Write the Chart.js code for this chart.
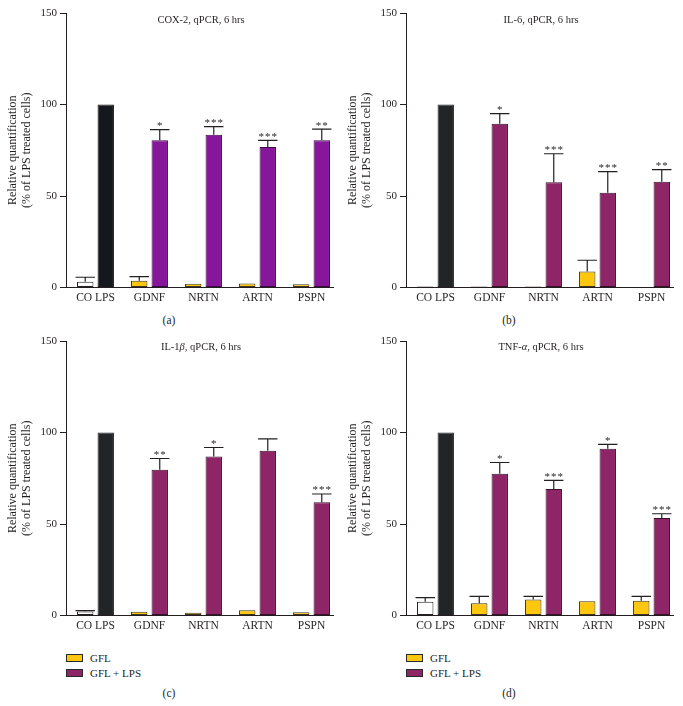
<!DOCTYPE html>
<html><head><meta charset="utf-8">
<script src="https://cdn.jsdelivr.net/npm/chart.js@4.4.0/dist/chart.umd.min.js"></script>
<style>
html,body{margin:0;padding:0;background:#fff;}
body{width:683px;height:706px;position:relative;overflow:hidden;font-family:'Liberation Serif','Times New Roman',serif;color:#231f20;}
.panel{position:absolute;width:340px;height:308px;}
.ttl{position:absolute;font-size:10.5px;white-space:nowrap;transform:translate(-50%,-50%);}
.lbl{position:absolute;font-size:11.5px;white-space:nowrap;transform:translate(-50%,-50%);}
.legtxt{position:absolute;font-size:11px;white-space:nowrap;transform:translateY(-50%);}
.sw{position:absolute;width:15px;height:6px;border:1px solid #2a2a2a;}
</style></head>
<body>
<div class="panel" style="left:0;top:0"><canvas id="cA" width="340" height="308"></canvas></div>
<div class="panel" style="left:340px;top:0"><canvas id="cB" width="340" height="308"></canvas></div>
<div class="panel" style="left:0;top:328px"><canvas id="cC" width="340" height="308"></canvas></div>
<div class="panel" style="left:340px;top:328px"><canvas id="cD" width="340" height="308"></canvas></div>

<div class="ttl" style="left:201px;top:19px">COX-2, qPCR, 6 hrs</div>
<div class="ttl" style="left:541px;top:19px">IL-6, qPCR, 6 hrs</div>
<div class="ttl" style="left:201px;top:346px">IL-1<i>β</i>, qPCR, 6 hrs</div>
<div class="ttl" style="left:541px;top:346px">TNF-<i>α</i>, qPCR, 6 hrs</div>

<div class="lbl" style="left:169px;top:320px">(a)</div>
<div class="lbl" style="left:509px;top:320px">(b)</div>
<div class="lbl" style="left:169px;top:693px">(c)</div>
<div class="lbl" style="left:509px;top:693px">(d)</div>

<div class="sw" style="left:66px;top:654px;background:#FDC70F"></div>
<div class="legtxt" style="left:90px;top:658px">GFL</div>
<div class="sw" style="left:66px;top:669px;background:#8D2566"></div>
<div class="legtxt" style="left:90px;top:673px">GFL + LPS</div>
<div class="sw" style="left:406px;top:654px;background:#FDC70F"></div>
<div class="legtxt" style="left:430px;top:658px">GFL</div>
<div class="sw" style="left:406px;top:669px;background:#8D2566"></div>
<div class="legtxt" style="left:430px;top:673px">GFL + LPS</div>

<script>
// ---- data ----
const categories = ['CO LPS', 'GDNF', 'NRTN', 'ARTN', 'PSPN'];
const seriesNames = ['GFL', 'GFL + LPS'];
const yTicks = [0, 50, 100, 150];

const cox2Gfl = [3.2, 3.7, 2.0, 2.2, 1.8];
const cox2GflErr = [2.4, 2.2, 0, 0, 0];
const cox2Lps = [100, 80.4, 83.5, 76.8, 80.4];
const cox2LpsErr = [0, 5.9, 4.4, 3.6, 6.1];
const cox2Sig = ['', '*', '***', '***', '**'];

const il6Gfl = [0.6, 0.6, 0.6, 8.8, 0];
const il6GflErr = [0, 0, 0, 6.1, 0];
const il6Lps = [100, 89.5, 57.5, 51.8, 57.8];
const il6LpsErr = [0, 5.5, 15.6, 11.5, 6.6];
const il6Sig = ['', '*', '***', '***', '**'];

const il1bGfl = [2.2, 2.0, 1.5, 2.9, 1.8];
const il1bGflErr = [0.5, 0, 0, 0, 0];
const il1bLps = [100, 79.6, 86.9, 90.0, 61.9];
const il1bLpsErr = [0, 6.2, 4.9, 6.5, 4.5];
const il1bSig = ['', '**', '*', '', '***'];

const tnfGfl = [7.5, 6.7, 8.7, 7.8, 8.0];
const tnfGflErr = [2.3, 3.8, 1.8, 0, 2.5];
const tnfLps = [100, 77.5, 69.1, 91.1, 53.3];
const tnfLpsErr = [0, 6.1, 4.7, 2.4, 2.3];
const tnfSig = ['', '*', '***', '*', '***'];

// ---- styling ----
const INK = '#231f20';
const FONT = "'Liberation Serif', 'Times New Roman', serif";
const YELLOW = '#FDC70F';

const errorBarPlugin = {
  id: 'errbars',
  afterDatasetsDraw(chart) {
    const ctx = chart.ctx;
    const ys = chart.scales.y;
    chart.data.datasets.forEach((ds, di) => {
      const meta = chart.getDatasetMeta(di);
      meta.data.forEach((bar, i) => {
        const v = ds.data[i];
        const e = ds.errors[i] || 0;
        const top = ys.getPixelForValue(v);
        const ey = ys.getPixelForValue(v + e);
        ctx.save();
        if (e > 0) {
          const half = bar.width / 2 + 1.5;
          ctx.strokeStyle = INK;
          ctx.lineWidth = 1.2;
          ctx.beginPath();
          ctx.moveTo(bar.x, top);
          ctx.lineTo(bar.x, ey);
          ctx.moveTo(bar.x - half, ey);
          ctx.lineTo(bar.x + half, ey);
          ctx.stroke();
        }
        const s = ds.stars ? ds.stars[i] : '';
        if (s) {
          ctx.fillStyle = INK;
          ctx.font = '11px ' + FONT;
          ctx.letterSpacing = '1px';
          ctx.textAlign = 'center';
          ctx.textBaseline = 'alphabetic';
          ctx.fillText(s, bar.x + 0.5, ey - 0.5);
        }
        ctx.restore();
      });
    });
  }
};

function makeChart(id, gfl, gflErr, lps, lpsErr, sig, lpsColor, lpsBorder, blackColor) {
  const idx = categories.map((_, i) => i);
  new Chart(document.getElementById(id), {
    type: 'bar',
    data: {
      labels: idx,
      datasets: [
        {
          label: seriesNames[0],
          data: gfl,
          errors: gflErr,
          backgroundColor: idx.map(i => i === 0 ? '#ffffff' : YELLOW),
          borderColor: idx.map(i => i === 0 ? '#222' : '#3d3520'),
          borderWidth: 1,
          borderSkipped: false
        },
        {
          label: seriesNames[1],
          data: lps,
          errors: lpsErr,
          stars: sig,
          backgroundColor: idx.map(i => i === 0 ? blackColor : lpsColor),
          borderColor: idx.map(i => i === 0 ? blackColor : lpsBorder),
          borderWidth: 1,
          borderSkipped: false
        }
      ]
    },
    options: {
      responsive: false,
      animation: false,
      events: [],
      categoryPercentage: 0.76,
      barPercentage: 0.8,
      layout: { padding: { top: 13, right: 7, left: 0, bottom: 0 } },
      plugins: { legend: { display: false }, tooltip: { enabled: false }, title: { display: false } },
      scales: {
        x: {
          type: 'linear',
          min: -0.546,
          max: 4.398,
          offset: false,
          grid: { display: false, drawTicks: false, offset: false },
          border: { display: true, color: INK, width: 1 },
          ticks: {
            stepSize: 1,
            includeBounds: false,
            autoSkip: false,
            maxRotation: 0,
            padding: 4,
            color: INK,
            font: { family: FONT, size: 11.5 },
            callback: (v) => Number.isInteger(v) && v >= 0 && v < categories.length ? categories[v] : ''
          },
          afterFit: (s) => { s.height = 20.5; }
        },
        y: {
          min: yTicks[0],
          max: yTicks[yTicks.length - 1],
          grid: { display: true, drawOnChartArea: false, drawTicks: true, tickLength: 6, color: INK, lineWidth: 1 },
          border: { display: true, color: INK, width: 1 },
          ticks: {
            stepSize: 50,
            padding: 3,
            color: INK,
            font: { family: FONT, size: 11 },
            callback: (v) => yTicks.includes(v) ? String(v) : ''
          },
          title: {
            display: true,
            text: ['Relative quantification', '(% of LPS treated cells)'],
            color: INK,
            font: { family: FONT, size: 12, lineHeight: 1.17 },
            padding: { top: 6, bottom: 0 }
          },
          afterFit: (s) => { s.width = 66; }
        }
      }
    },
    plugins: [errorBarPlugin]
  });
}

makeChart('cA', cox2Gfl, cox2GflErr, cox2Lps, cox2LpsErr, cox2Sig, '#87179A', '#3b0a45', '#14171B');
makeChart('cB', il6Gfl, il6GflErr, il6Lps, il6LpsErr, il6Sig, '#8D2566', '#3a0f2a', '#222528');
makeChart('cC', il1bGfl, il1bGflErr, il1bLps, il1bLpsErr, il1bSig, '#8D2566', '#3a0f2a', '#222528');
makeChart('cD', tnfGfl, tnfGflErr, tnfLps, tnfLpsErr, tnfSig, '#8D2566', '#3a0f2a', '#222528');
</script>
</body></html>
